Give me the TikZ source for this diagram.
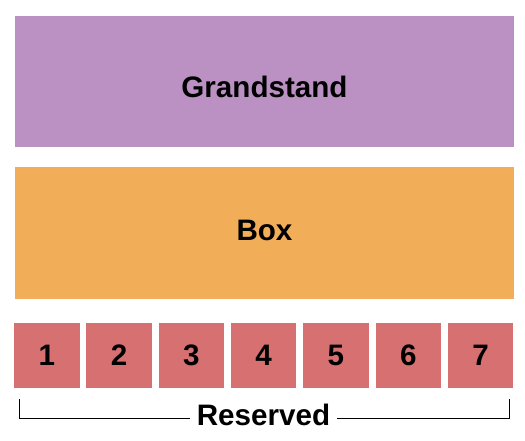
\documentclass[tikz,border=0pt]{standalone}
\usepackage{fontspec}
\setmainfont{Liberation Sans}
\usepackage{tikz}
\usetikzlibrary{positioning}
\definecolor{gstand}{RGB}{186,145,194}
\definecolor{boxseat}{RGB}{242,173,89}
\definecolor{resseat}{RGB}{215,112,113}

\begin{document}
\begin{tikzpicture}[x=1pt, y=-1pt, font=\bfseries\fontsize{29.6}{32}\selectfont,
    zone/.style={rectangle, outer sep=0pt, inner sep=0pt, minimum width=499pt, minimum height=131pt},
    seat/.style={rectangle, fill=resseat, outer sep=0pt, inner sep=0pt, minimum width=65.5pt, minimum height=65pt},
    bracket/.style={line width=1pt}]

    \useasboundingbox (0,0) rectangle (525,440);

    \node[zone, fill=gstand] (grandstand) at (264.5,81.75) {};
    \node (grandstand label) at ([yshift=-5.5pt]grandstand.center) {Grandstand};

    \node[zone, fill=boxseat, minimum height=131.5pt] (box) at (264.5,232.75) {};
    \node (box label) at ([yshift=2.5pt]box.center) {Box};

    \node[seat] (s1) at (46.75,355.2) {1};
    \foreach \i [count=\j from 1] in {2,...,7}
        \node[seat, right=6.8pt of s\j] (s\i) {\i};

    \node[inner xsep=7pt, inner ysep=0pt] (reserved) at (263.5,415) {Reserved};
    \coordinate (left top) at (19.5,399);
    \coordinate (left foot) at (19.5,418);
    \coordinate (right top) at (509,399);
    \coordinate (right foot) at (509,418);

    \draw[bracket] (left top) -- (left foot) -- (left foot -| reserved.west);
    \draw[bracket] (reserved.east |- right foot) -- (right foot) -- (right top);
\end{tikzpicture}
\end{document}
